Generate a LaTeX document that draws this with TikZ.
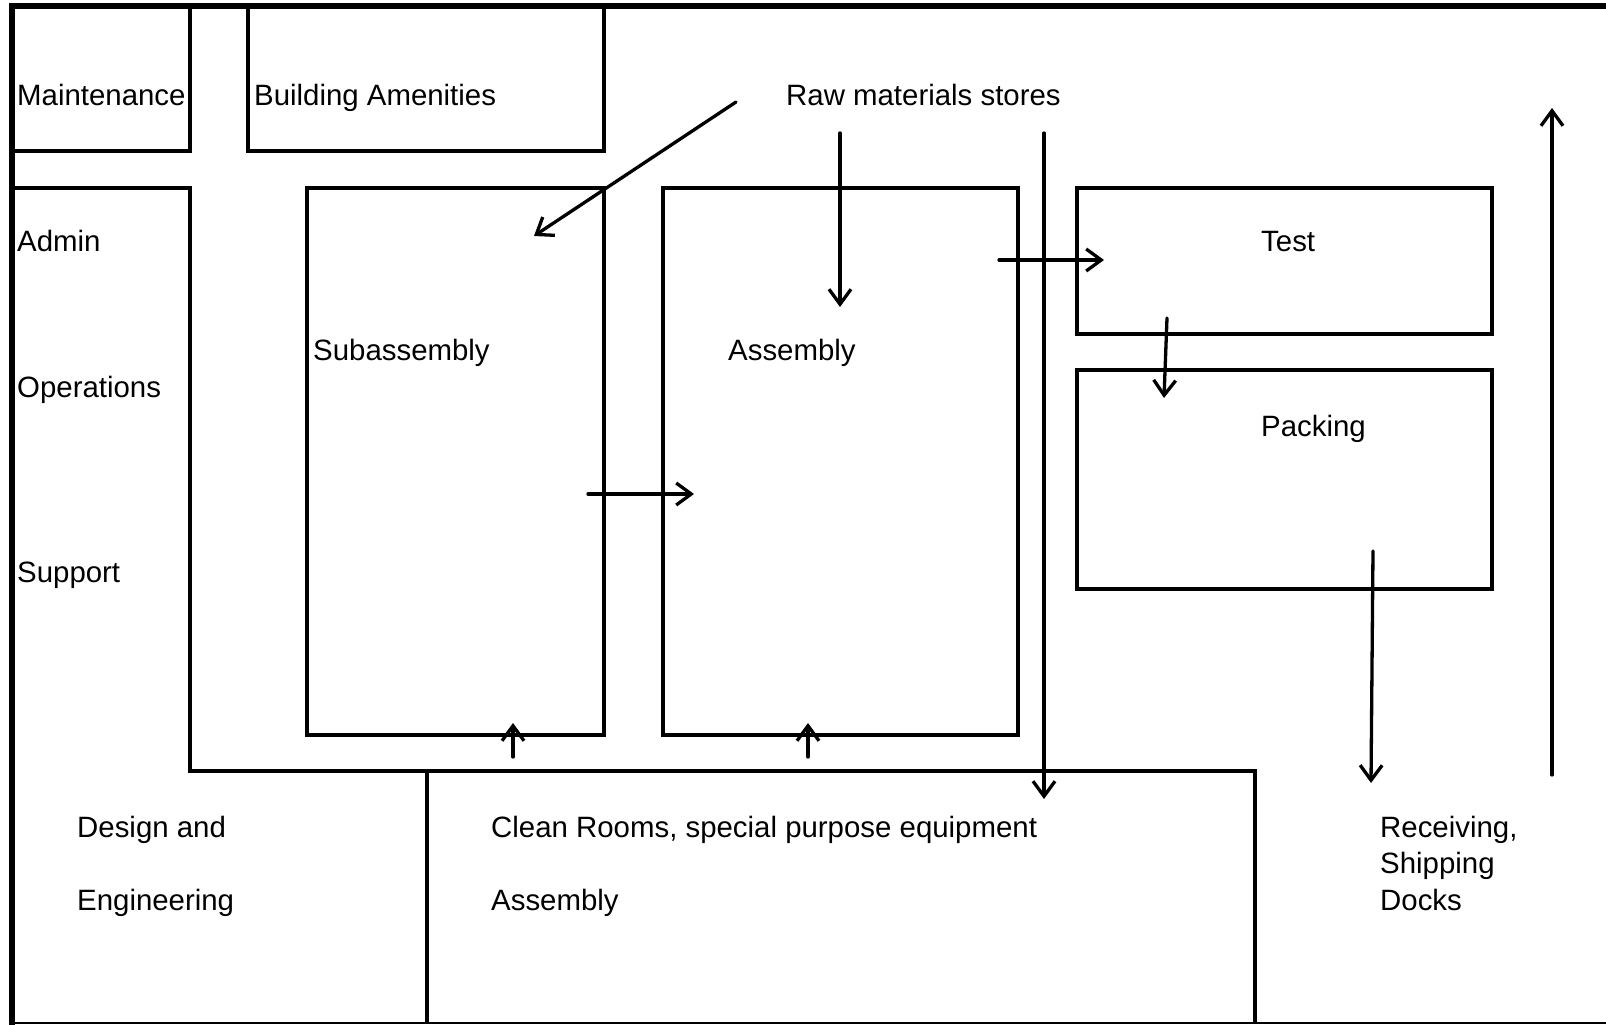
\documentclass[tikz,border=0pt]{standalone}
\usepackage{fontspec}
\setmainfont{Liberation Sans}
\usetikzlibrary{arrows.meta}
\begin{document}
\begin{tikzpicture}[x=1pt,y=-1pt,
  wall/.style={line width=3.2pt},
  outerwall/.style={line width=5.5pt},
  flow/.style={line width=3.3pt,line cap=round,-{Straight Barb[length=15pt,width=22pt]}},
  lbl/.style={anchor=base west,inner sep=0pt,font=\fontsize{29.4}{36.5}\selectfont,align=left}]
\useasboundingbox (0,0) rectangle (1606,1025);

% building outline
\draw[outerwall] (1606,6) -- (12,6) -- (12,1025);
\draw[line width=2.5pt] (12,1023) -- (1606,1023);

% top rooms
\draw[wall] (190,6) -- (190,151) -- (12,151);
\draw[wall] (248,6) -- (248,151) -- (604,151) -- (604,6);

% office column and corridor line
\draw[wall] (12,188) -- (190,188) -- (190,771) -- (1255,771) -- (1255,1023);
\draw[wall] (427,771) -- (427,1023);

% production areas
\draw[wall] (307,188) rectangle (604,735);
\draw[wall] (663,188) rectangle (1018,735);
\draw[wall] (1077,188) rectangle (1492,334);
\draw[wall] (1077,370) rectangle (1492,589);

% labels
\node[lbl] (maint) at (17,105) {Maintenance};
\node[lbl] (amen) at (254,105) {Building Amenities};
\node[lbl] (raw) at (786,105) {Raw materials stores};
\node[lbl] (admin) at (17,251) {Admin};
\node[lbl] (ops) at (17,397) {Operations};
\node[lbl] (supp) at (17,582) {Support};
\node[lbl] (sub) at (313,360) {Subassembly};
\node[lbl] (asm) at (728,360) {Assembly};
\node[lbl] (test) at (1261,251) {Test};
\node[lbl] (pack) at (1261,436) {Packing};
\node[lbl] (des) at (77,837) {Design and};
\node[lbl] (eng) at (77,910) {Engineering};
\node[lbl] (clean) at (491,837) {Clean Rooms, special purpose equipment};
\node[lbl] (casm) at (491,910) {Assembly};
\node[lbl] (dock) at (1380,910) {Receiving,\\Shipping\\Docks};

% material flow
\coordinate (rawA) at (736,102);
\coordinate (subIn) at (534,236);
\coordinate (rawB) at (840,133);
\coordinate (asmIn) at (840,307);
\coordinate (rawC) at (1044,133);
\coordinate (cleanIn) at (1044,799);
\coordinate (asmOut) at (999,260);
\coordinate (testIn) at (1104,260);
\coordinate (testOut) at (1167,318);
\coordinate (packIn) at (1164,398);
\coordinate (subOut) at (588,494);
\coordinate (asmSide) at (694,494);
\coordinate (crA) at (513,757);
\coordinate (subUp) at (513,723);
\coordinate (crB) at (808,757);
\coordinate (asmUp) at (808,723);
\coordinate (packOut) at (1373,551);
\coordinate (dockIn) at (1371,783);
\coordinate (dockOut) at (1552,775);
\coordinate (exit) at (1552,108);

\draw[flow] (rawA) -- (subIn);
\draw[flow] (rawB) -- (asmIn);
\draw[flow] (rawC) -- (cleanIn);
\draw[flow] (asmOut) -- (testIn);
\draw[flow] (testOut) -- (packIn);
\draw[flow] (subOut) -- (asmSide);
\draw[flow] (crA) -- (subUp);
\draw[flow] (crB) -- (asmUp);
\draw[flow] (packOut) -- (dockIn);
\draw[flow] (dockOut) -- (exit);
\end{tikzpicture}
\end{document}
